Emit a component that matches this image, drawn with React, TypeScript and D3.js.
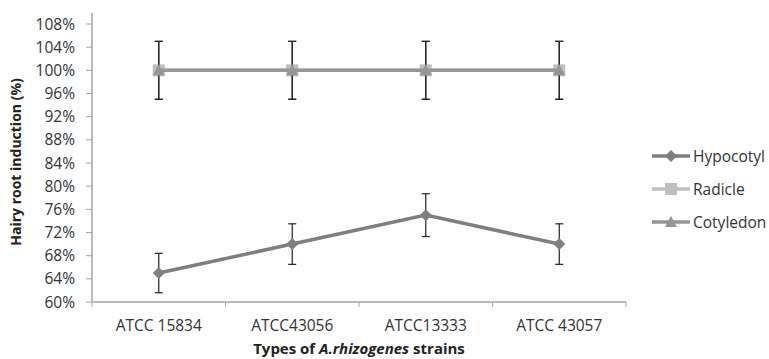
import React from 'react';
import * as d3 from 'd3';

const strains = ['ATCC 15834', 'ATCC43056', 'ATCC13333', 'ATCC 43057'];
const hypocotyl = [65, 70, 75, 70];
const hypocotylErr = [3.4, 3.5, 3.7, 3.5];
const radicle = [100, 100, 100, 100];
const radicleErr = [5, 5, 5, 5];
const cotyledon = [100, 100, 100, 100];
const cotyledonErr = [5, 5, 5, 5];
const yTicks = [60, 64, 68, 72, 76, 80, 84, 88, 92, 96, 100, 104, 108];

const seriesList = [
  { name: 'Hypocotyl', values: hypocotyl, err: hypocotylErr, color: '#7f7f7f', shape: 'diamond' },
  { name: 'Radicle', values: radicle, err: radicleErr, color: '#bfbfbf', shape: 'square' },
  { name: 'Cotyledon', values: cotyledon, err: cotyledonErr, color: '#969696', shape: 'triangle' },
];

const font = '"Open Sans", "Liberation Sans", sans-serif';

function marker(shape: string, x: number, y: number, color: string, key: string) {
  if (shape === 'diamond') {
    return <path key={key} d={`M${x},${y - 6}L${x + 6},${y}L${x},${y + 6}L${x - 6},${y}Z`} fill={color} />;
  }
  if (shape === 'square') {
    return <rect key={key} x={x - 6} y={y - 6} width={12} height={12} fill={color} />;
  }
  return <path key={key} d={`M${x},${y - 6}L${x + 6},${y + 5}L${x - 6},${y + 5}Z`} fill={color} />;
}

export default function App() {
  const left = 92, right = 626, top = 13, bottom = 302;
  const x = d3.scaleBand().domain(strains).range([left, right]);
  const y = d3.scaleLinear().domain([60, 108]).range([bottom, 24]);
  const cx = (s: string) => (x(s) as number) + x.bandwidth() / 2;
  const line = d3.line<number>().x((_, i) => cx(strains[i])).y(d => y(d));

  return (
    <svg width={769} height={359} style={{ position: 'absolute', left: 0, top: 0, fontFamily: font }}>
      <rect width={769} height={359} fill="#fff" />
      {/* y axis */}
      <line x1={left} x2={left} y1={top} y2={bottom} stroke="#a6a6a6" strokeWidth={1.5} />
      {yTicks.map(t => (
        <g key={t}>
          <line x1={left - 6} x2={left} y1={y(t)} y2={y(t)} stroke="#a6a6a6" strokeWidth={1} />
          <text x={left - 17} y={y(t)} dy="0.36em" textAnchor="end" fontSize={15.5} fill="#333">{t}%</text>
        </g>
      ))}
      {/* x axis */}
      <line x1={left} x2={right} y1={bottom} y2={bottom} stroke="#a6a6a6" strokeWidth={1.5} />
      {strains.map((s, i) => (
        <g key={s}>
          <line x1={(x(s) as number) + x.bandwidth()} x2={(x(s) as number) + x.bandwidth()} y1={bottom} y2={bottom + 5} stroke="#a6a6a6" />
          {i === 0 && <line x1={left} x2={left} y1={bottom} y2={bottom + 5} stroke="#a6a6a6" />}
          <text x={cx(s)} y={331} textAnchor="middle" fontSize={15.5} fill="#333">{s}</text>
        </g>
      ))}
      <text x={359} y={354} textAnchor="middle" fontSize={15} fontWeight="bold" fill="#222">
        Types of <tspan fontStyle="italic">A.rhizogenes</tspan> strains
      </text>
      <text transform={`translate(21,162) rotate(-90)`} textAnchor="middle" fontSize={14} fontWeight="bold" fill="#222">
        Hairy root induction (%)
      </text>
      {/* series */}
      {seriesList.map(sr => (
        <g key={sr.name}>
          <path d={line(sr.values) || ''} fill="none" stroke={sr.color} strokeWidth={3.5} />
          {sr.values.map((v, i) => {
            const px = cx(strains[i]);
            return (
              <g key={i}>
                <line x1={px} x2={px} y1={y(v + sr.err[i])} y2={y(v - sr.err[i])} stroke="#222" strokeWidth={1.2} />
                <line x1={px - 4} x2={px + 4} y1={y(v + sr.err[i])} y2={y(v + sr.err[i])} stroke="#222" strokeWidth={1.2} />
                <line x1={px - 4} x2={px + 4} y1={y(v - sr.err[i])} y2={y(v - sr.err[i])} stroke="#222" strokeWidth={1.2} />
                {marker(sr.shape, px, y(v), sr.color, 'm' + i)}
              </g>
            );
          })}
        </g>
      ))}
      {/* legend */}
      {seriesList.map((sr, i) => {
        const ly = 156 + i * 33;
        return (
          <g key={sr.name}>
            <line x1={652} x2={690} y1={ly} y2={ly} stroke={sr.color} strokeWidth={3.5} />
            {marker(sr.shape, 671, ly, sr.color, 'l')}
            <text x={693} y={ly} dy="0.36em" fontSize={15.5} fill="#333">{sr.name}</text>
          </g>
        );
      })}
    </svg>
  );
}
